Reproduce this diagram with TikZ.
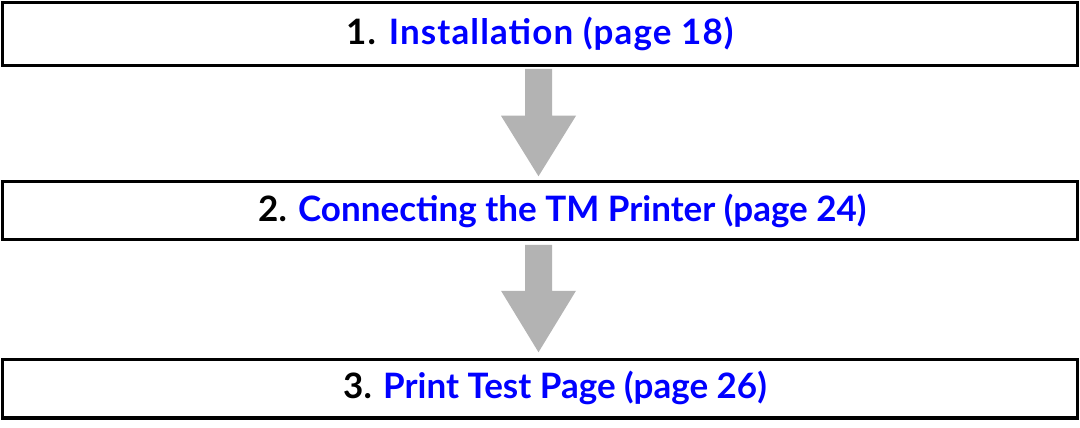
\documentclass[tikz,border=0pt]{standalone}
\usepackage{fontspec}
\setmainfont{Lato}[UprightFont=* Bold]
\usetikzlibrary{calc}
\definecolor{arrowgray}{RGB}{179,179,179}
\definecolor{linkblue}{RGB}{0,0,255}
\tikzset{
  stepbox/.style={draw=black, line width=3.5pt, fill=white, rectangle, inner sep=0pt, minimum width=1075pt},
  steptext/.style={anchor=base west, inner sep=0pt, font=\fontsize{35}{42}\selectfont, text=black},
  widetext/.style={font=\fontsize{35}{42}\selectfont\addfontfeature{LetterSpace=3.2}}
}
\begin{document}
\begin{tikzpicture}[x=1pt,y=-1pt]
\useasboundingbox (0,0) rectangle (1080,428);
\node[stepbox, minimum height=63pt] (b1) at (540,34) {};
\node[stepbox, minimum height=58pt] (b2) at (540,210.5) {};
\node[stepbox, minimum height=58.5pt] (b3) at (540,388.75) {};
\node[steptext, widetext] (t1) at (346,45) {1. \textcolor{linkblue}{Installation (page 18)}};
\node[steptext] (t2) at (258,221) {2. \textcolor{linkblue}{Connecting the TM Printer (page 24)}};
\node[steptext] (t3) at (343,398.5) {3. \textcolor{linkblue}{Print Test Page (page 26)}};
\fill[arrowgray] ($(b1.south)+(-15,1.75)$) -- ($(b1.south)+(12,1.75)$) -- ($(b1.south)+(12,48.5)$) -- ($(b1.south)+(36,48.5)$) -- ($(b2.north)+(-1.5,-3.5)$) -- ($(b1.south)+(-39,48.5)$) -- ($(b1.south)+(-15,48.5)$) -- cycle;
\fill[arrowgray] ($(b2.south)+(-15,3.5)$) -- ($(b2.south)+(12,3.5)$) -- ($(b2.south)+(12,49.5)$) -- ($(b2.south)+(36,49.5)$) -- ($(b3.north)+(-1.5,-5.5)$) -- ($(b2.south)+(-39,49.5)$) -- ($(b2.south)+(-15,49.5)$) -- cycle;
\end{tikzpicture}
\end{document}
